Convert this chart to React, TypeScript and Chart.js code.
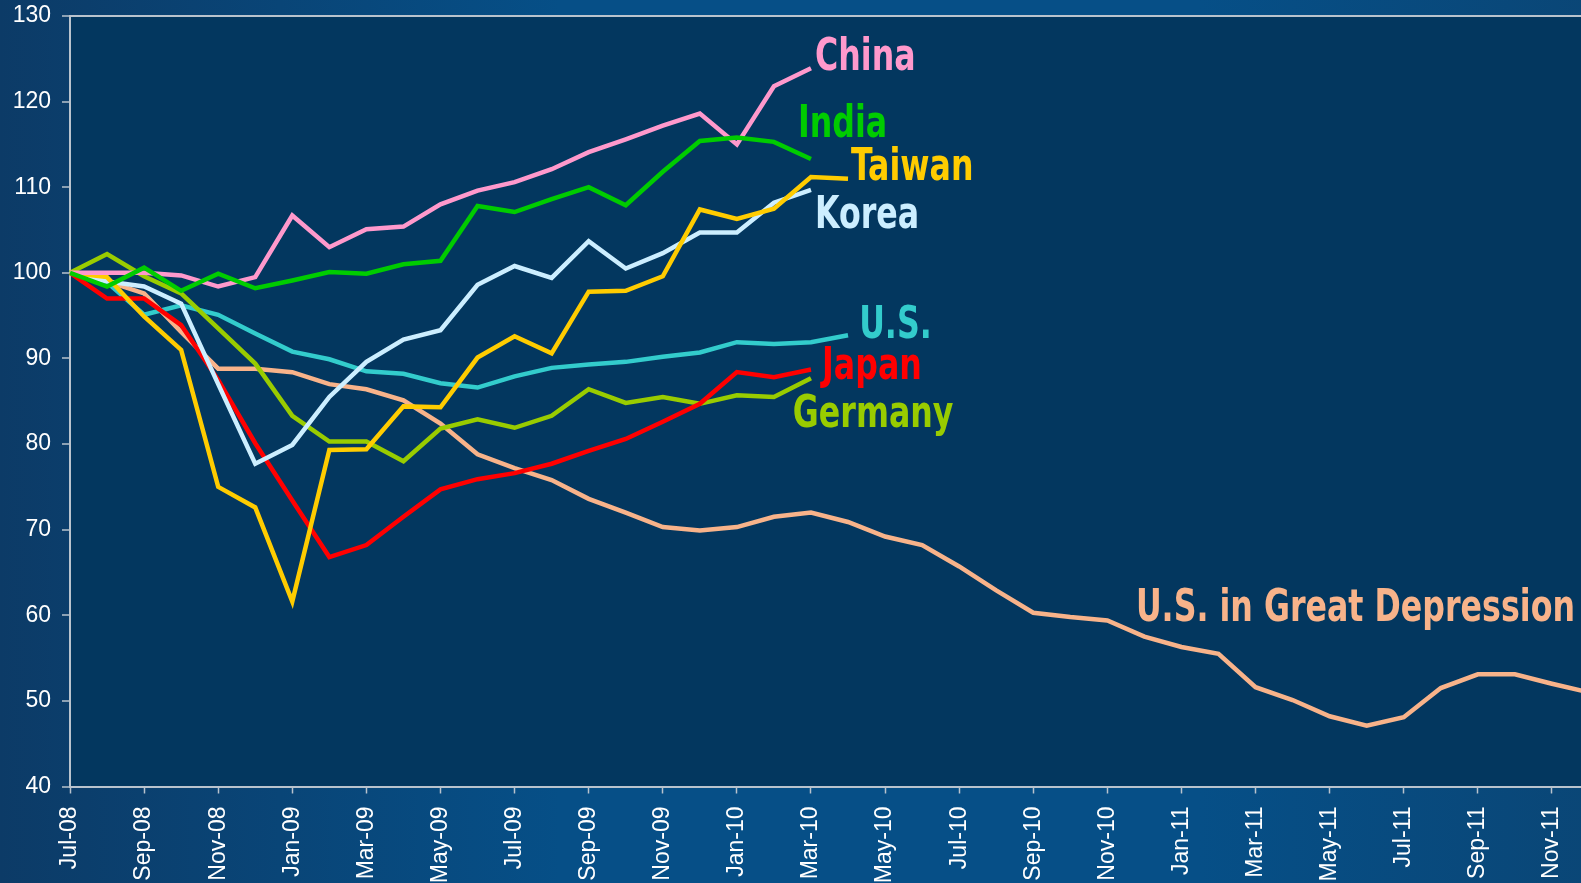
import React, { useEffect, useRef } from 'react';
import { Chart, registerables } from 'chart.js';

Chart.register(...registerables);

const months = [
  'Jul-08', 'Aug-08', 'Sep-08', 'Oct-08', 'Nov-08', 'Dec-08',
  'Jan-09', 'Feb-09', 'Mar-09', 'Apr-09', 'May-09', 'Jun-09',
  'Jul-09', 'Aug-09', 'Sep-09', 'Oct-09', 'Nov-09', 'Dec-09',
  'Jan-10', 'Feb-10', 'Mar-10', 'Apr-10', 'May-10', 'Jun-10',
  'Jul-10', 'Aug-10', 'Sep-10', 'Oct-10', 'Nov-10', 'Dec-10',
  'Jan-11', 'Feb-11', 'Mar-11', 'Apr-11', 'May-11', 'Jun-11',
  'Jul-11', 'Aug-11', 'Sep-11', 'Oct-11', 'Nov-11', 'Dec-11',
];

const china = [100, 100, 100, 99.7, 98.4, 99.5, 106.7, 103.0, 105.1, 105.4, 108.0, 109.6, 110.6, 112.1, 114.1, 115.6, 117.2, 118.6, 115.0, 121.8, 123.9];
const india = [100, 98.4, 100.6, 97.9, 99.9, 98.2, 99.1, 100.1, 99.9, 101.0, 101.4, 107.8, 107.1, 108.6, 110.0, 107.9, 111.8, 115.4, 115.8, 115.3, 113.3];
const taiwan = [100, 99.5, 94.9, 91.0, 75.0, 72.6, 61.6, 79.3, 79.4, 84.4, 84.3, 90.1, 92.6, 90.6, 97.8, 97.9, 99.6, 107.4, 106.3, 107.5, 111.2, 111.0];
const korea = [100, 99.0, 98.4, 96.4, 87.0, 77.7, 79.9, 85.5, 89.6, 92.2, 93.3, 98.6, 100.8, 99.4, 103.7, 100.5, 102.3, 104.7, 104.7, 108.2, 109.7];
const us = [100, 98.9, 95.1, 96.2, 95.1, 92.9, 90.8, 89.9, 88.5, 88.2, 87.1, 86.6, 87.9, 88.9, 89.3, 89.6, 90.2, 90.7, 91.9, 91.7, 91.9, 92.7];
const japan = [100, 97.0, 97.0, 93.9, 87.5, 80.1, 73.4, 66.8, 68.2, 71.5, 74.7, 75.9, 76.6, 77.7, 79.2, 80.6, 82.6, 84.7, 88.4, 87.8, 88.7];
const germany = [100, 102.2, 99.6, 97.6, 93.5, 89.4, 83.3, 80.3, 80.3, 78.0, 81.8, 82.9, 81.9, 83.3, 86.4, 84.8, 85.5, 84.7, 85.7, 85.5, 87.7];
const depression = [100, 99.0, 97.6, 93.1, 88.8, 88.8, 88.4, 87.0, 86.4, 85.1, 82.4, 78.8, 77.2, 75.8, 73.6, 72.0, 70.3, 69.9, 70.3, 71.5, 72.0, 70.9, 69.2, 68.2, 65.7, 62.9, 60.3, 59.8, 59.4, 57.5, 56.3, 55.5, 51.6, 50.1, 48.2, 47.1, 48.1, 51.5, 53.1, 53.1, 52.0, 51.0];

const seriesNames = ['India', 'China', 'Taiwan', 'Korea', 'Japan', 'Germany', 'U.S.', 'U.S. in Great Depression'];
const seriesData = [india, china, taiwan, korea, japan, germany, us, depression];
const seriesColors = ['#00cc00', '#ff99cc', '#ffcc00', '#cceeff', '#ff0000', '#99cc00', '#33cccc', '#f8b38a'];

// Series name labels, anchored in data coordinates (month index, value of baseline)
const labelTexts = ['China', 'India', 'Taiwan', 'Korea', 'U.S.', 'Japan', 'Germany', 'U.S. in Great Depression'];
const labelColors = ['#ff99cc', '#00cc00', '#ffcc00', '#cceeff', '#33cccc', '#ff0000', '#99cc00', '#f8b38a'];
const labelX = [20.11, 19.65, 21.08, 20.11, 21.3, 20.3, 19.51, 28.77];
const labelY = [123.66, 115.84, 110.82, 105.21, 92.36, 87.57, 81.96, 59.3];

const yMin = 40;
const yMax = 130;
const yStep = 10;

const AXIS = '#b9c3cd';
const PLOT_BG = '#03375f';
const TICK_FONT = { family: 'Arial, "Liberation Sans", sans-serif', size: 23 };
const LABEL_FONT = 'bold 44px "DejaVu Sans Condensed", "DejaVu Sans", sans-serif';
const LABEL_SQUEEZE = 0.8;

export default function App() {
  const ref = useRef<HTMLCanvasElement>(null);

  useEffect(() => {
    document.body.style.margin = '0';
    const canvas = ref.current;
    if (!canvas) return;

    const bgPlugin = {
      id: 'bgPlugin',
      beforeDraw(chart: any) {
        const { ctx, width, height, chartArea } = chart;
        ctx.save();
        const g = ctx.createLinearGradient(0, 0, width, 0);
        g.addColorStop(0, '#0c3b67');
        g.addColorStop(0.35, '#064f87');
        g.addColorStop(0.75, '#064f87');
        g.addColorStop(1, '#0a4676');
        ctx.fillStyle = g;
        ctx.fillRect(0, 0, width, height);
        ctx.fillStyle = PLOT_BG;
        ctx.fillRect(chartArea.left, chartArea.top, chartArea.right - chartArea.left, chartArea.bottom - chartArea.top);
        ctx.restore();
      },
    };

    const labelPlugin = {
      id: 'labelPlugin',
      afterDatasetsDraw(chart: any) {
        const { ctx } = chart;
        const xs = chart.scales.x;
        const ys = chart.scales.y;
        labelTexts.forEach((t, i) => {
          ctx.save();
          ctx.translate(xs.getPixelForValue(labelX[i]), ys.getPixelForValue(labelY[i]));
          ctx.scale(LABEL_SQUEEZE, 1);
          ctx.font = LABEL_FONT;
          ctx.textAlign = 'left';
          ctx.textBaseline = 'alphabetic';
          ctx.fillStyle = labelColors[i];
          ctx.fillText(t, 0, 0);
          ctx.restore();
        });
      },
    };

    const chart = new Chart(canvas, {
      type: 'line',
      data: {
        labels: months,
        datasets: seriesNames.map((name, i) => ({
          label: name,
          data: seriesData[i],
          borderColor: seriesColors[i],
          backgroundColor: seriesColors[i],
          borderWidth: 4.5,
          pointRadius: 0,
          tension: 0,
          fill: false,
        })),
      },
      options: {
        responsive: false,
        maintainAspectRatio: false,
        animation: false,
        layout: { padding: { top: 16, right: 11, left: 0, bottom: 0 } },
        plugins: { legend: { display: false }, tooltip: { enabled: false } },
        scales: {
          x: {
            type: 'category',
            offset: false,
            grid: {
              drawOnChartArea: false,
              drawTicks: true,
              tickLength: 7,
              tickWidth: 1.5,
              tickColor: (c: any) => (c.index % 2 === 0 ? AXIS : 'transparent'),
            },
            border: { color: AXIS, width: 2 },
            ticks: {
              autoSkip: false,
              maxRotation: 90,
              minRotation: 90,
              padding: 13,
              color: '#ffffff',
              font: TICK_FONT,
              callback: (_v: any, i: number) => (i % 2 === 0 ? months[i] : ''),
            },
            afterFit: (s: any) => {
              s.height = 96.5;
              s.paddingLeft = 0;
              s.paddingRight = 0;
            },
          },
          y: {
            min: yMin,
            max: yMax,
            ticks: { stepSize: yStep, color: '#ffffff', padding: 11, font: TICK_FONT },
            grid: {
              color: (c: any) => (c.tick && c.tick.value === yMax ? AXIS : 'transparent'),
              lineWidth: 2,
              drawTicks: true,
              tickLength: 8,
              tickColor: AXIS,
              tickWidth: 1.5,
            },
            border: { color: AXIS, width: 2 },
            afterFit: (s: any) => {
              s.width = 70;
              s.paddingTop = 0;
              s.paddingBottom = 0;
            },
          },
        },
      },
      plugins: [bgPlugin, labelPlugin],
    } as any);

    return () => chart.destroy();
  }, []);

  return (
    <div style={{ position: 'fixed', left: 0, top: 0, width: 1581, height: 883, overflow: 'hidden' }}>
      <canvas ref={ref} width={1600} height={883} style={{ display: 'block' }} />
    </div>
  );
}
